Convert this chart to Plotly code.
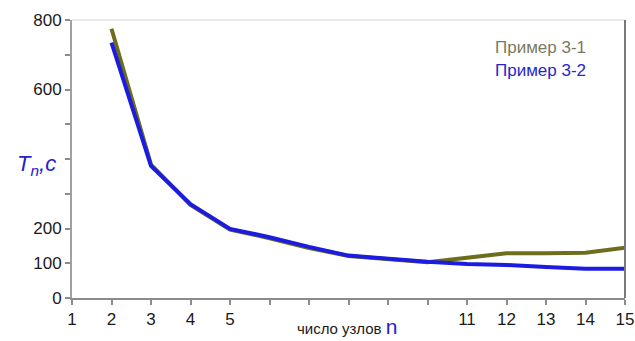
import plotly.graph_objects as go

# Число узлов n и время решения T_n (с) для двух примеров
nodes = [2, 3, 4, 5, 6, 7, 8, 9, 10, 11, 12, 13, 14, 15]
t_example_1 = [775, 384, 268, 197, 172, 144, 121, 111, 103, 116, 129, 129, 130, 145]
t_example_2 = [735, 380, 270, 199, 175, 147, 122, 113, 104, 98, 95, 89, 84, 84]

x_tick_vals = list(range(1, 16))
x_tick_text = ["1", "2", "3", "4", "5", "", "", "", "", "", "11", "12", "13", "14", "15"]
y_tick_vals = [0, 100, 200, 300, 400, 500, 600, 700, 800]
y_tick_text = ["0", "100", "200", "", "", "", "600", "", "800"]

OLIVE = "#6e6d1c"
BLUE = "#1c1ce0"

fig = go.Figure()
fig.add_trace(go.Scatter(x=nodes, y=t_example_1, mode="lines",
                         line=dict(color=OLIVE, width=4), name="Пример 3-1"))
fig.add_trace(go.Scatter(x=nodes, y=t_example_2, mode="lines",
                         line=dict(color=BLUE, width=4), name="Пример 3-2"))

fig.update_layout(
    width=635, height=341,
    margin=dict(l=72, r=10, t=20, b=43),
    paper_bgcolor="white", plot_bgcolor="white",
    showlegend=False,
    font=dict(family="Liberation Sans, Arial, sans-serif", color="#1a1a1a"),
    xaxis=dict(range=[1, 15], tickvals=x_tick_vals, ticktext=x_tick_text,
               automargin=False,
               showgrid=False, zeroline=False, showline=True,
               linecolor="#8c8c8c", linewidth=2, ticks="outside",
               ticklen=5, tickwidth=1.5, tickcolor="#8c8c8c",
               tickfont=dict(size=17, color="#1a1a1a")),
    yaxis=dict(range=[0, 800], tickvals=y_tick_vals, ticktext=y_tick_text,
               automargin=False,
               showgrid=False, zeroline=False, showline=True,
               linecolor="#a0a0a0", linewidth=2, ticks="outside",
               ticklen=5, tickwidth=1.5, tickcolor="#8c8c8c",
               tickfont=dict(size=17, color="#1a1a1a")),
)

# Рамка области построения: верхняя и правая линии
fig.add_shape(type="line", xref="paper", yref="paper", x0=0, x1=1, y0=1, y1=1,
              line=dict(color="#e2e2e2", width=1.5))
fig.add_shape(type="line", xref="paper", yref="paper", x0=1, x1=1, y0=0, y1=1,
              line=dict(color="#7a7a7a", width=2))

# Подписи серий
fig.add_annotation(xref="paper", yref="paper", x=0.762, y=0.902, xanchor="left",
                   yanchor="middle", showarrow=False, text="Пример 3-1",
                   font=dict(size=17, color="#7a7a60"))
fig.add_annotation(xref="paper", yref="paper", x=0.762, y=0.818, xanchor="left",
                   yanchor="middle", showarrow=False, text="Пример 3-2",
                   font=dict(size=17, color="#2626cc"))

# Подпись оси Y
fig.add_annotation(xref="paper", yref="paper", x=-0.025, y=0.478, xanchor="right",
                   yanchor="middle", showarrow=False,
                   text="<i>T<sub>n</sub>,c</i>",
                   font=dict(size=22, color="#2222cc"))

# Подпись оси X
fig.add_annotation(xref="paper", yref="paper", x=0.497, y=-0.151, xanchor="center",
                   yanchor="bottom", showarrow=False,
                   text="число узлов <span style='font-size:21px;color:#2222cc'>n</span>",
                   font=dict(size=15, color="#1a1a1a"))

fig.write_html("out.html")
